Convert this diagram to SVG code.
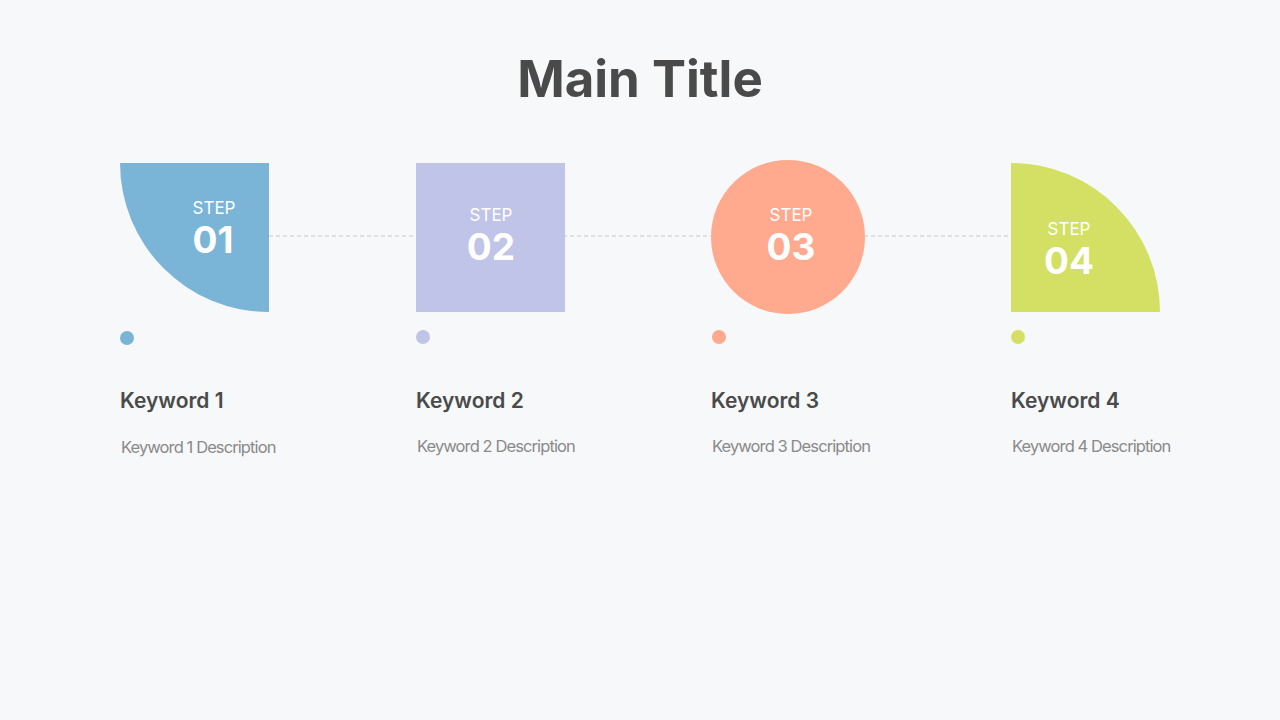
<svg xmlns="http://www.w3.org/2000/svg" width="1280" height="720" viewBox="0 0 1280 720">
<style>
.step{font-family:Inter,"Noto Sans",sans-serif;font-size:17px;fill:#fff;text-anchor:middle}
.num{font-family:Inter,"Noto Sans",sans-serif;font-size:37px;font-weight:700;fill:#fff;text-anchor:middle}
.kw{font-family:Inter,"Noto Sans",sans-serif;font-size:21px;font-weight:600;fill:#4a4a4a}
.desc{font-family:Inter,"Noto Sans",sans-serif;font-size:16.5px;fill:#8a8a8a;letter-spacing:-0.9px}
</style>
<rect width="1280" height="720" fill="#f7f8f9"/>
<text x="640" y="97" text-anchor="middle" font-family="Inter,'Noto Sans',sans-serif" font-size="51" font-weight="700" fill="#4a4a4a">Main Title</text>
<g id="connectors">
<line x1="269" y1="236" x2="1011" y2="236" stroke="#c8c8c8" stroke-width="1" stroke-dasharray="4,3"/>
</g>
<g id="step1">
<path d="M120,163 H269 V312 A149,149 0 0 1 120,163 Z" fill="#7ab5d8"/>
<text class="step" x="214" y="214">STEP</text>
<text class="num" x="213" y="253">01</text>
<circle cx="127" cy="338" r="7" fill="#7ab5d8"/>
<text class="kw" x="120" y="408">Keyword 1</text>
<text class="desc" x="121" y="453">Keyword 1 Description</text>
</g>
<g id="step2">
<rect x="416" y="163" width="149" height="149" fill="#bfc4e8"/>
<text class="step" x="491" y="221">STEP</text>
<text class="num" x="491" y="260">02</text>
<circle cx="423" cy="337" r="7" fill="#bfc4e8"/>
<text class="kw" x="416" y="408">Keyword 2</text>
<text class="desc" x="417" y="452">Keyword 2 Description</text>
</g>
<g id="step3">
<circle cx="788" cy="237" r="77" fill="#ffa98f"/>
<text class="step" x="791" y="221">STEP</text>
<text class="num" x="791" y="260">03</text>
<circle cx="719" cy="337" r="7" fill="#ffa98f"/>
<text class="kw" x="711" y="408">Keyword 3</text>
<text class="desc" x="712" y="452">Keyword 3 Description</text>
</g>
<g id="step4">
<path d="M1011,312 V163 A149,149 0 0 1 1160,312 Z" fill="#d3e063"/>
<text class="step" x="1069" y="235">STEP</text>
<text class="num" x="1069" y="274">04</text>
<circle cx="1018" cy="337" r="7" fill="#d3e063"/>
<text class="kw" x="1011" y="408">Keyword 4</text>
<text class="desc" x="1012" y="452">Keyword 4 Description</text>
</g>
</svg>
